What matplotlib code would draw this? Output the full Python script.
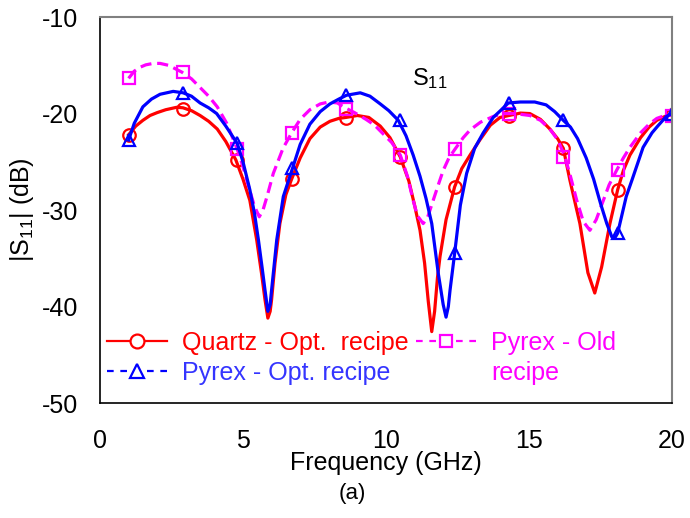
import matplotlib
matplotlib.use("Agg")
import matplotlib.pyplot as plt
from matplotlib.lines import Line2D

plt.rcParams['font.family'] = ['Liberation Sans', 'DejaVu Sans']
plt.rcParams['mathtext.default'] = 'regular'
plt.rcParams['axes.unicode_minus'] = False

# |S11| traces (GHz, dB)
quartz_f = [1.0, 1.25, 1.5, 1.75, 2.0, 2.3, 2.68, 2.9, 3.2, 3.5, 3.8, 4.1, 4.4, 4.75,
            5.0, 5.24, 5.48, 5.65, 5.77, 5.87, 5.95, 6.0, 6.12, 6.29, 6.5, 6.7, 7.0,
            7.34, 7.7, 8.04, 8.35, 8.6, 9.0, 9.4, 9.8, 10.14, 10.5, 10.8, 11.0, 11.19,
            11.35, 11.48, 11.6, 11.7, 11.8, 11.89, 12.1, 12.4, 12.65, 12.94, 13.29,
            13.65, 13.99, 14.3, 14.7, 15.03, 15.4, 15.73, 16.0, 16.2, 16.43, 16.78,
            17.06, 17.3, 17.54, 17.83, 18.1, 18.3, 18.53, 18.9, 19.2, 19.47, 19.75, 20.0]
quartz_db = [-22.2, -21.3, -20.7, -20.2, -19.9, -19.6, -19.35, -19.4, -19.7, -20.2, -20.8,
             -21.6, -22.9, -24.8, -26.8, -29.0, -33.1, -36.6, -39.3, -41.2, -40.5, -39.3,
             -35.5, -31.4, -28.4, -26.8, -24.6, -22.6, -21.4, -20.8, -20.5, -20.4, -20.2,
             -20.4, -21.3, -22.5, -24.5, -27.0, -29.5, -32.1, -35.5, -39.5, -42.6, -40.5,
             -37.0, -34.8, -31.0, -27.6, -25.7, -24.3, -22.7, -21.2, -20.4, -20.2, -19.95,
             -20.0, -20.6, -21.6, -22.6, -23.6, -26.9, -31.4, -36.5, -38.6, -35.9, -31.4,
             -27.9, -25.9, -24.3, -22.5, -21.4, -20.7, -20.3, -20.1]

pyrex_opt_f = [1.0, 1.2, 1.5, 1.8, 2.1, 2.56, 2.91, 3.2, 3.5, 3.8, 4.08, 4.4, 4.8, 5.0,
               5.24, 5.4, 5.54, 5.67, 5.77, 5.87, 5.95, 6.0, 6.18, 6.41, 6.74, 7.0, 7.34,
               7.7, 8.04, 8.35, 8.62, 9.1, 9.44, 9.8, 10.1, 10.43, 10.7, 10.95, 11.19,
               11.4, 11.6, 11.83, 12.0, 12.1, 12.18, 12.24, 12.4, 12.6, 12.82, 13.1, 13.4,
               13.75, 14.0, 14.28, 14.7, 15.2, 15.6, 15.9, 16.2, 16.45, 16.7, 17.0, 17.26,
               17.5, 17.72, 17.9, 18.0, 18.1, 18.25, 18.4, 18.6, 18.99, 19.3, 19.5, 19.8, 20.0]
pyrex_opt_db = [-22.75, -21.0, -19.3, -18.5, -18.0, -17.7, -17.85, -18.2, -18.9, -19.4,
                -20.0, -21.3, -23.1, -25.0, -27.9, -30.3, -33.1, -36.0, -38.3, -40.5,
                -39.8, -38.3, -33.1, -28.6, -25.6, -23.2, -21.1, -19.8, -19.0, -18.5,
                -18.1, -17.85, -18.2, -19.0, -19.7, -20.7, -22.3, -24.3, -26.5, -28.8,
                -31.4, -36.6, -39.8, -41.1, -40.0, -38.3, -34.5, -29.5, -26.2, -23.6,
                -22.0, -20.4, -19.7, -18.9, -18.8, -18.8, -19.1, -19.8, -20.7, -21.4,
                -22.6, -24.6, -26.8, -29.3, -31.4, -32.8, -32.9, -32.4, -30.5, -28.6,
                -26.9, -23.5, -22.0, -21.3, -20.3, -20.0]

pyrex_old_f = [1.0, 1.2, 1.4, 1.6, 1.86, 2.1, 2.4, 2.86, 3.2, 3.5, 3.8, 4.1, 4.43, 4.8,
               5.0, 5.2, 5.4, 5.57, 5.7, 5.85, 6.06, 6.4, 6.7, 7.0, 7.34, 7.7, 8.0, 8.3,
               8.57, 8.9, 9.3, 9.6, 9.9, 10.2, 10.5, 10.75, 10.95, 11.1, 11.3, 11.45,
               11.65, 11.85, 12.0, 12.2, 12.41, 12.7, 12.94, 13.3, 13.75, 14.1, 14.5,
               15.03, 15.4, 15.73, 16.0, 16.25, 16.45, 16.67, 16.9, 17.13, 17.35, 17.6,
               17.8, 18.06, 18.3, 18.53, 18.9, 19.2, 19.47, 19.75, 20.0]
pyrex_old_db = [-16.35, -15.6, -15.2, -14.95, -14.8, -14.8, -15.0, -15.7, -16.4, -17.3,
                -18.2, -19.3, -21.0, -23.7, -25.5, -27.6, -29.6, -30.7, -30.0, -28.5,
                -26.2, -23.6, -22.0, -20.6, -19.6, -19.0, -18.8, -18.9, -19.4, -19.9,
                -20.6, -21.2, -22.1, -23.0, -24.3, -26.5, -29.0, -30.6, -31.4, -30.8,
                -29.0, -27.2, -25.9, -24.6, -23.7, -22.5, -21.7, -20.9, -20.3, -20.0,
                -20.0, -20.2, -20.7, -21.6, -22.7, -24.4, -26.5, -29.0, -31.2, -32.1,
                -31.0, -29.0, -27.4, -25.9, -24.6, -23.5, -22.0, -21.1, -20.5, -20.2, -20.2]

# marker samples
marker_f = [1.0, 2.9, 4.8, 6.7, 8.6, 10.5, 12.4, 14.3, 16.2, 18.1, 20.0]
quartz_mk = [-22.2, -19.5, -24.8, -26.8, -20.5, -24.5, -27.6, -20.3, -23.6, -27.9, -20.1]
pyrex_opt_mk = [-22.75, -17.9, -23.1, -25.6, -18.1, -20.7, -34.5, -18.9, -20.7, -32.4, -20.0]
pyrex_old_mk = [-16.35, -15.7, -23.7, -22.0, -19.5, -24.3, -23.7, -20.0, -24.5, -25.9, -20.2]

# legend text; the last label wraps onto a second row
labels = ['Quartz - Opt.  recipe', 'Pyrex - Opt. recipe', 'Pyrex - Old', 'recipe']

RED, BLUE, MAG = '#ff0000', '#0000ff', '#ff00ff'
lw = 2.3
ms = 9
mew = 1.6

fig = plt.figure(figsize=(6.9, 5.18), dpi=100)
ax = fig.add_axes([0.1449, 0.222, 0.829, 0.745])

ax.plot(quartz_f, quartz_db, color=RED, lw=lw)
ax.plot(marker_f, quartz_mk, ls='none', marker='o', ms=ms, mew=mew,
        mec=RED, mfc='none')
ax.plot(pyrex_old_f, pyrex_old_db, color=MAG, lw=lw, dashes=(3.5, 1.8))
ax.plot(marker_f, pyrex_old_mk, ls='none', marker='s', ms=ms - 1, mew=mew,
        mec=MAG, mfc='none')
ax.plot(pyrex_opt_f, pyrex_opt_db, color=BLUE, lw=lw)
ax.plot(marker_f, pyrex_opt_mk, ls='none', marker='^', ms=ms, mew=mew,
        mec=BLUE, mfc='none')

ax.set_xlim(0, 20)
ax.set_ylim(-50, -10)
ax.set_xticks([0, 5, 10, 15, 20])
ax.set_yticks([-50, -40, -30, -20, -10])
ax.tick_params(length=0, labelsize=18)
ax.tick_params(axis='y', pad=16)
ax.tick_params(axis='x', pad=19)

for side in ('left', 'bottom'):
    ax.spines[side].set_color('black')
    ax.spines[side].set_linewidth(1.2)
for side in ('top', 'right'):
    ax.spines[side].set_color('#808080')
    ax.spines[side].set_linewidth(1.5)

ax.set_xlabel('Frequency (GHz)', fontsize=18)
ax.xaxis.set_label_coords(0.5, -0.125)
ax.set_ylabel('|S$_{11}$| (dB)', fontsize=18)
ax.yaxis.set_label_coords(-0.112, 0.5)

ax.text(10.9, -16.4, 'S$_{11}$', fontsize=17, ha='left', va='center')

# legend entries
h_quartz = Line2D([], [], color=RED, lw=1.6, marker='o', ms=ms + 1, mew=mew,
                  mec=RED, mfc='white')
h_opt = Line2D([], [], color=BLUE, lw=1.6, dashes=(3, 3), marker='^', ms=ms + 1,
               mew=mew, mec=BLUE, mfc='white')
h_old = Line2D([], [], color=MAG, lw=1.6, dashes=(3, 3), marker='s', ms=ms,
               mew=mew, mec=MAG, mfc='white')
h_blank = Line2D([], [], color='none')

leg = ax.legend([h_quartz, h_opt, h_old, h_blank], labels, ncol=2,
                frameon=False, loc='upper left', bbox_to_anchor=(0.012, 0.1865),
                borderaxespad=0, borderpad=0, fontsize=18, handlelength=2.4,
                handletextpad=0.6, columnspacing=0.3, labelspacing=0.22,
                numpoints=1)
for txt, c in zip(leg.get_texts(), [RED, '#3535ff', MAG, MAG]):
    txt.set_color(c)

fig.text(0.51, 0.048, '(a)', fontsize=16, ha='center', va='center')

fig.savefig('out.png', dpi=100)
